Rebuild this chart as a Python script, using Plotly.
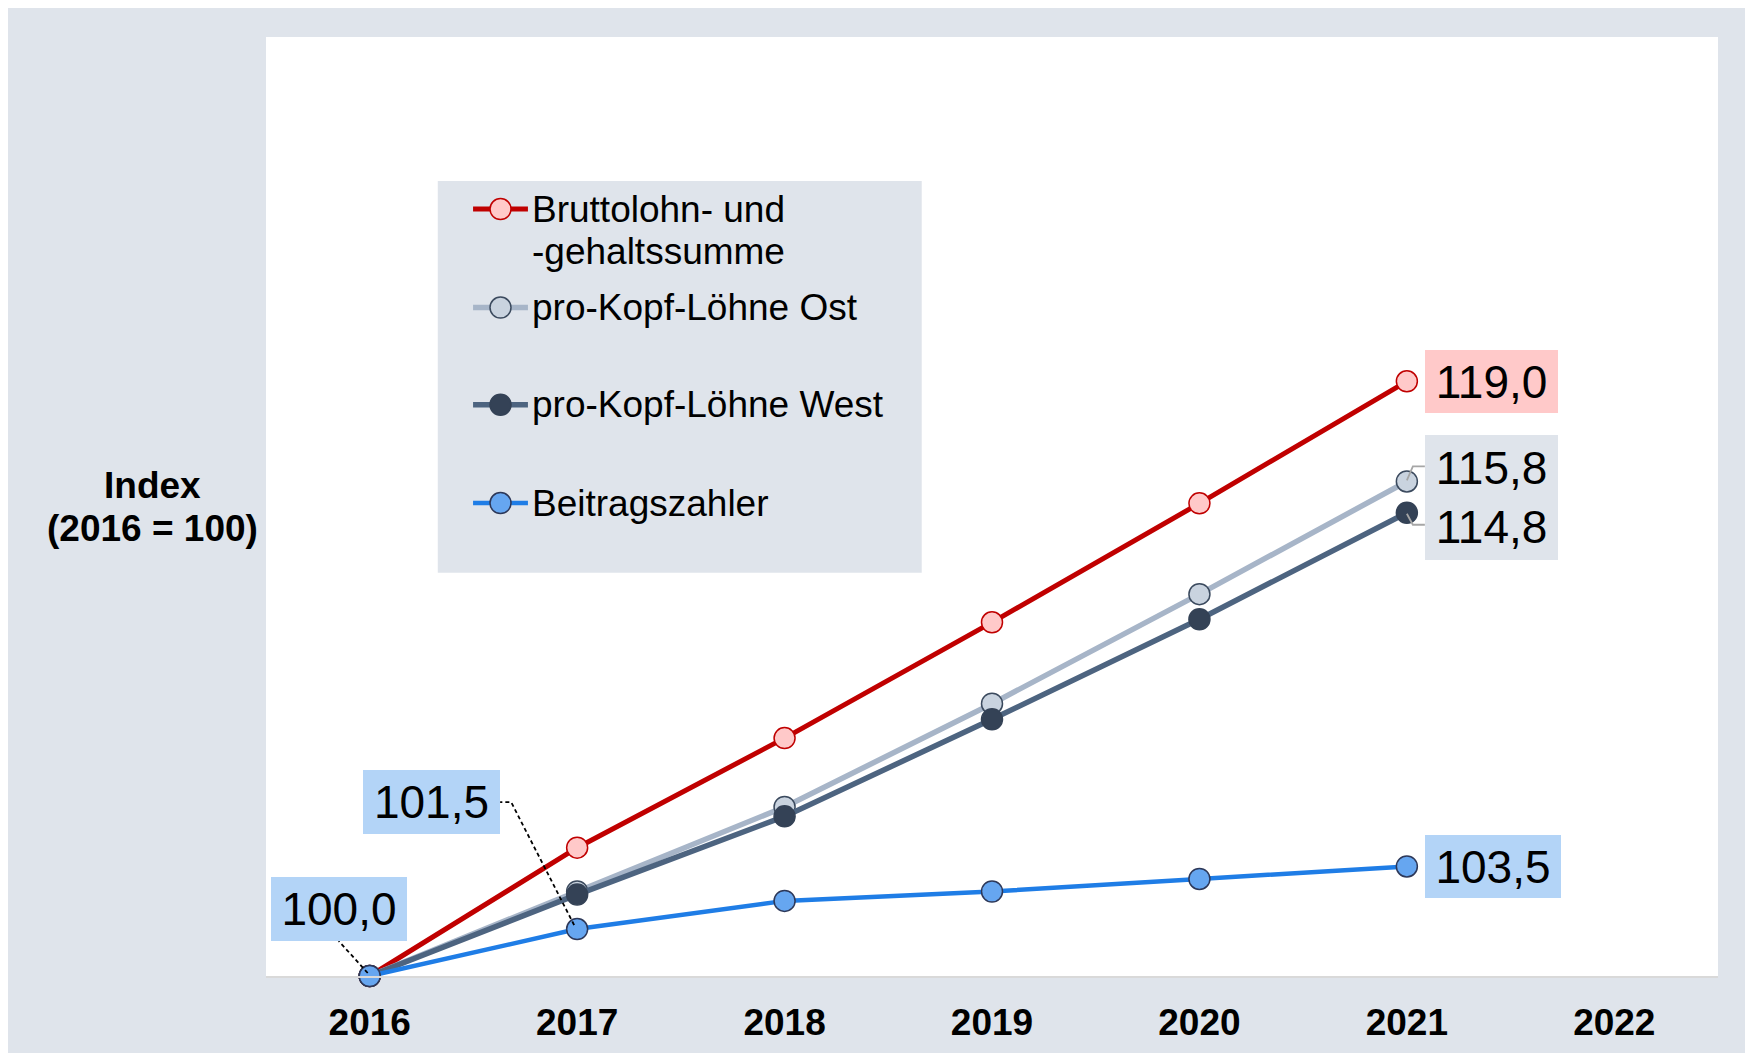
import plotly.graph_objects as go

# data (index, 2016 = 100)
years = [2016, 2017, 2018, 2019, 2020, 2021]
tick_years = [2016, 2017, 2018, 2019, 2020, 2021, 2022]

brutto = [100.0, 104.1, 107.6, 111.3, 115.1, 119.0]
ost = [100.0, 102.7, 105.4, 108.7, 112.2, 115.8]
west = [100.0, 102.6, 105.1, 108.2, 111.4, 114.8]
beitrag = [100.0, 101.5, 102.4, 102.7, 103.1, 103.5]

names = ["Bruttolohn- und", "-gehaltssumme", "pro-Kopf-Löhne Ost", "pro-Kopf-Löhne West", "Beitragszahler"]

FONT = "Liberation Sans, Arial, sans-serif"
GREY_BG = "#DFE4EB"

styles = [
    # line colour, width, marker fill, marker outline
    dict(line="#C00000", width=5, fill="#FFC9C9", edge="#C00000"),
    dict(line="#A7B5C8", width=5.5, fill="#C9D3DF", edge="#3B4A5E"),
    dict(line="#4D6480", width=5.5, fill="#344256", edge="#344256"),
    dict(line="#1F7DE6", width=4.5, fill="#66A6F0", edge="#2D3859"),
]
series = [brutto, ost, west, beitrag]

X_RANGE = [2015.5, 2022.5]
Y_RANGE = [100, 130]
PLOT_W, PLOT_H = 1452, 939
px_x = PLOT_W / (X_RANGE[1] - X_RANGE[0])
px_y = PLOT_H / (Y_RANGE[1] - Y_RANGE[0])


def fmt(v):
    return f"{v:.1f}".replace(".", ",")


def offset(x, y, dx, dy):
    # pixel offset (screen, y down) -> data coords
    return x + dx / px_x, y - dy / px_y


fig = go.Figure()

for vals, st in zip(series, styles):
    fig.add_trace(go.Scatter(
        x=years, y=vals, mode="lines+markers",
        line=dict(color=st["line"], width=st["width"]),
        marker=dict(size=21, color=st["fill"], line=dict(color=st["edge"], width=1.5)),
        cliponaxis=False, showlegend=False, hoverinfo="skip",
    ))

# hand-made legend on an overlay axis in [0, 1]
legend_rows = [0.8168, 0.7119, 0.6084, 0.5037]
for row, st in zip(legend_rows, styles):
    fig.add_trace(go.Scatter(
        x=[0.1426, 0.1804], y=[row, row], mode="lines", xaxis="x2", yaxis="y2",
        line=dict(color=st["line"], width=st["width"]), showlegend=False, hoverinfo="skip",
    ))
    fig.add_trace(go.Scatter(
        x=[0.1615], y=[row], mode="markers", xaxis="x2", yaxis="y2",
        marker=dict(size=21, color=st["fill"], line=dict(color=st["edge"], width=1.5)),
        showlegend=False, hoverinfo="skip",
    ))

annotations = []
legend_text_rows = [0.8168, 0.7715, 0.7119, 0.6084, 0.5037]
for name, row in zip(names, legend_text_rows):
    annotations.append(dict(
        text=name, xref="paper", yref="paper", x=0.1816, y=row,
        xanchor="left", yanchor="middle", showarrow=False,
        font=dict(size=37, family=FONT, color="black"),
    ))

# y axis title, two lines
for txt, ypos in [("<b>Index</b>", 0.522), ("<b>(2016 = 100)</b>", 0.477)]:
    annotations.append(dict(
        text=txt, xref="paper", yref="paper",
        x=-0.0782, y=ypos, xanchor="center", yanchor="middle", showarrow=False,
        font=dict(size=37, family=FONT, color="black"),
    ))

label_font = dict(size=46, family=FONT, color="black")
box = dict(xref="x", yref="y", showarrow=False, borderpad=0, borderwidth=0,
           align="center", valign="middle", font=label_font)

annotations += [
    dict(box, text=fmt(brutto[-1]), x=years[-1], y=brutto[-1], xanchor="left",
         xshift=18, width=133, height=63, bgcolor="#FFC9C9"),
    dict(box, text=fmt(ost[-1]) + "<br>" + fmt(west[-1]), x=years[-1],
         y=(ost[-1] + west[-1]) / 2, xanchor="left", xshift=18, width=133, height=125,
         bgcolor=GREY_BG),
    dict(box, text=fmt(beitrag[-1]), x=years[-1], y=beitrag[-1], xanchor="left",
         xshift=18, width=136, height=63, bgcolor="#B3D4F7"),
    dict(box, text=fmt(beitrag[0]), x=years[0], y=beitrag[0], xanchor="center",
         xshift=-31, yshift=67, width=136, height=64, bgcolor="#B3D4F7"),
    dict(box, text=fmt(beitrag[1]), x=years[1], y=beitrag[1], xanchor="center",
         xshift=-146, yshift=127, width=137, height=64, bgcolor="#B3D4F7"),
]


def path(x, y, pts):
    coords = [offset(x, y, dx, dy) for dx, dy in pts]
    return "M " + " L ".join(f"{a},{b}" for a, b in coords)


shapes = [
    # legend background
    dict(type="rect", xref="paper", yref="paper", x0=0.1183, x1=0.4516, y0=0.4295, y1=0.8466,
         fillcolor=GREY_BG, line=dict(width=0), layer="below"),
    # leader lines
    dict(type="path", xref="x", yref="y", path=path(years[0], beitrag[0], [(-2, -3), (-31, -35)]),
         line=dict(color="black", width=1.8, dash="4px,3px")),
    dict(type="path", xref="x", yref="y",
         path=path(years[1], beitrag[1], [(-3, -4), (-66, -127), (-77, -127)]),
         line=dict(color="black", width=1.8, dash="4px,3px")),
    dict(type="path", xref="x", yref="y",
         path=path(years[-1], ost[-1], [(0, -1), (6, -15), (18, -15)]),
         line=dict(color="#A6A6A6", width=1.8)),
    dict(type="path", xref="x", yref="y",
         path=path(years[-1], west[-1], [(0, 1), (6, 12), (18, 12)]),
         line=dict(color="#A6A6A6", width=1.8)),
]

fig.update_layout(
    width=1740, height=1046,
    margin=dict(l=258, r=30, t=29, b=78),
    paper_bgcolor=GREY_BG, plot_bgcolor="white",
    showlegend=False,
    font=dict(family=FONT, color="black"),
    xaxis=dict(range=X_RANGE, tickvals=tick_years, ticktext=[str(y) for y in tick_years],
               tickfont=dict(size=37, family=FONT, color="black", weight="bold"),
               showgrid=False, zeroline=False, showline=True, linecolor="#D9D9D9", linewidth=2,
               ticks="outside", ticklen=13, tickcolor="rgba(0,0,0,0)", fixedrange=True),
    yaxis=dict(range=Y_RANGE, visible=False, showgrid=False, zeroline=False, fixedrange=True),
    xaxis2=dict(range=[0, 1], overlaying="x", visible=False, fixedrange=True),
    yaxis2=dict(range=[0, 1], overlaying="y", visible=False, fixedrange=True),
    annotations=annotations,
    shapes=shapes,
)

fig.write_html("out.html")
